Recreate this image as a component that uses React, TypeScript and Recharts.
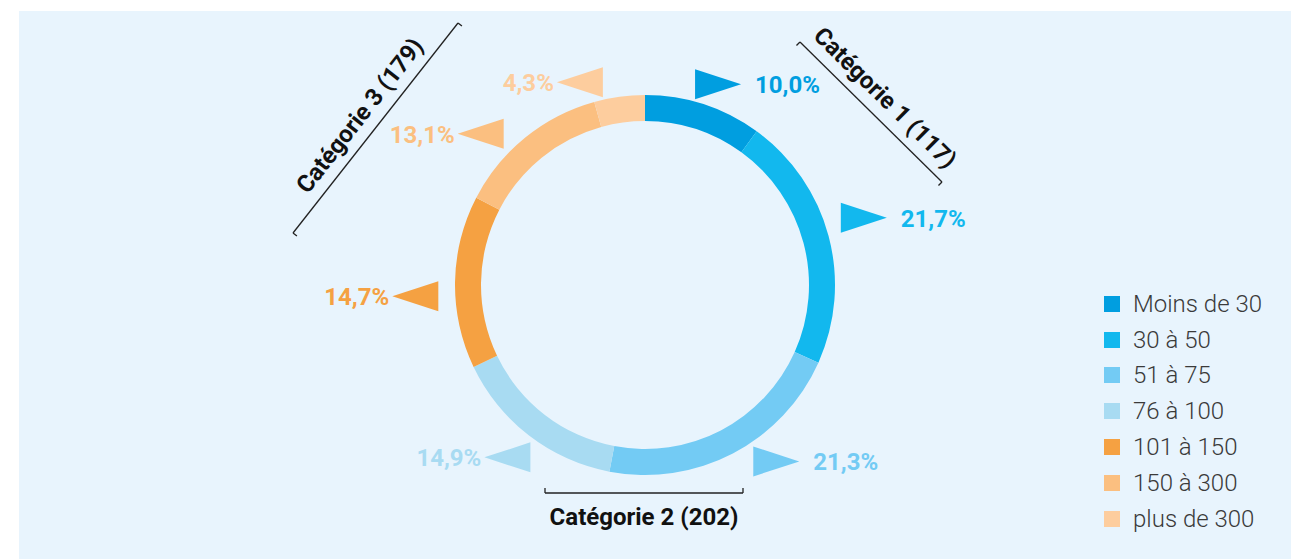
import { Legend, Pie, PieChart } from "recharts";

const CATEGORIES = ["Moins de 30", "30 à 50", "51 à 75", "76 à 100", "101 à 150", "150 à 300", "plus de 300"];
const SHARES = [10.0, 21.7, 21.3, 14.9, 14.7, 13.1, 4.3];
const COLORS = ["#009ee0", "#12b8ee", "#73cbf4", "#a8dbf2", "#f5a142", "#fbbf80", "#fdcd9e"];
const GROUP_LABELS = ["Catégorie 1 (117)", "Catégorie 2 (202)", "Catégorie 3 (179)"];

const data = CATEGORIES.map((name, i) => ({ name, value: SHARES[i], fill: COLORS[i] }));

const FONT = "Roboto, 'Liberation Sans', sans-serif";
const RAD = Math.PI / 180;
const CX = 626;
const CY = 274;

// percent label: small triangle pointing away from the ring, then the value
function PctLabel(props: any) {
  const { cx, cy, midAngle, outerRadius, value, index } = props;
  const r = outerRadius + 17;
  const a = midAngle + 4; // labels sit a little counter-clockwise of the slice middle
  const ax = cx + r * Math.cos(-a * RAD);
  const ay = cy + r * Math.sin(-a * RAD);
  const right = ax > cx;
  const w = 46;
  const h = 30;
  const tip = right ? ax + w : ax - w;
  const color = COLORS[index];
  return (
    <g>
      <polygon points={`${ax},${ay - h / 2} ${ax},${ay + h / 2} ${tip},${ay}`} fill={color} />
      <text
        x={right ? tip + 14 : tip - 3}
        y={ay + 9}
        textAnchor={right ? "start" : "end"}
        fill={color}
        fontSize={24}
        fontWeight={700}
        fontFamily={FONT}
      >
        {value.toFixed(1).replace(".", ",") + "%"}
      </text>
    </g>
  );
}

function Bracket({ x1, y1, x2, y2, label }: { x1: number; y1: number; x2: number; y2: number; label: string }) {
  const dx = x2 - x1;
  const dy = y2 - y1;
  const len = Math.hypot(dx, dy);
  const ux = dx / len;
  const uy = dy / len;
  // normal pointing away from the ring center
  let nx = -uy;
  let ny = ux;
  const mx = (x1 + x2) / 2;
  const my = (y1 + y2) / 2;
  if ((mx - CX) * nx + (my - CY) * ny < 0) {
    nx = -nx;
    ny = -ny;
  }
  let angle = (Math.atan2(dy, dx) * 180) / Math.PI;
  if (angle > 90) angle -= 180;
  if (angle < -90) angle += 180;
  const below = ny > 0.9;
  const off = below ? 14 : 12;
  const tx = mx + nx * off;
  const ty = my + ny * off;
  const tick = 5;
  return (
    <g>
      <line x1={x1} y1={y1} x2={x2} y2={y2} stroke="#222" strokeWidth={1.3} />
      <line x1={x1} y1={y1} x2={x1 - nx * tick} y2={y1 - ny * tick} stroke="#222" strokeWidth={1.3} />
      <line x1={x2} y1={y2} x2={x2 - nx * tick} y2={y2 - ny * tick} stroke="#222" strokeWidth={1.3} />
      <text
        x={tx}
        y={ty}
        textAnchor="middle"
        dominantBaseline={below ? "hanging" : "alphabetic"}
        transform={`rotate(${angle}, ${tx}, ${ty})`}
        fill="#111"
        fontSize={24}
        fontWeight={700}
        fontFamily={FONT}
      >
        {label}
      </text>
    </g>
  );
}

function LegendBox() {
  return (
    <div style={{ fontFamily: FONT }}>
      {CATEGORIES.map((c, i) => (
        <div key={c} style={{ display: "flex", alignItems: "center", height: 35.8 }}>
          <span style={{ width: 16, height: 16, background: COLORS[i], marginRight: 13 }} />
          <span style={{ fontSize: 24, color: "#3a3a3a", fontWeight: 300 }}>{c}</span>
        </div>
      ))}
    </div>
  );
}

export default function App() {
  return (
    <div style={{ position: "absolute", left: 0, top: 0, width: 1291, height: 559, background: "#fff" }}>
      <div style={{ position: "absolute", left: 19, top: 11, width: 1272, height: 548, background: "#e8f4fd" }}>
        <PieChart width={1272} height={548} margin={{ top: 0, right: 0, bottom: 0, left: 0 }}>
          <Pie
            data={data}
            dataKey="value"
            nameKey="name"
            cx={CX}
            cy={CY}
            innerRadius={164}
            outerRadius={190}
            startAngle={90}
            endAngle={-270}
            stroke="none"
            label={PctLabel}
            labelLine={false}
            isAnimationActive={false}
          />
          <Legend
            content={() => <LegendBox />}
            wrapperStyle={{ position: "absolute", left: 1085, top: 275, width: 180 }}
          />
          <Bracket x1={781} y1={31} x2={923} y2={171} label={GROUP_LABELS[0]} />
          <Bracket x1={526} y1={482} x2={724} y2={482} label={GROUP_LABELS[1]} />
          <Bracket x1={274} y1={222} x2={439} y2={12} label={GROUP_LABELS[2]} />
        </PieChart>
      </div>
    </div>
  );
}
